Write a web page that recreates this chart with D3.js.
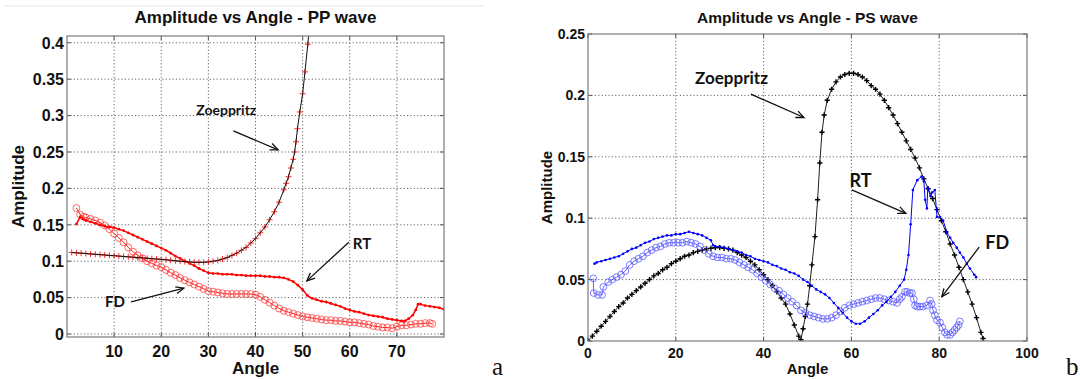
<!DOCTYPE html>
<html>
<head>
<meta charset="utf-8">
<script src="https://cdn.jsdelivr.net/npm/d3@7"></script>
<style>
  body { margin: 0; background: #fff; }
  svg { display: block; font-family: "Liberation Sans", Arial, sans-serif; }
</style>
</head>
<body>
<svg id="chart" width="1080" height="379"></svg>
<script>
// ---- Panel a: PP wave, [angle, amplitude]
const ppZoeppritz = [
  [1,.112],[2,.1115],[3,.111],[4,.1105],[5,.110],[6,.1095],[7,.109],[8,.1085],[9,.108],[10,.1075],
  [11,.107],[12,.1065],[13,.106],[14,.1055],[15,.105],[16,.1045],[17,.104],[18,.1035],[19,.103],[20,.1025],
  [21,.102],[22,.1013],[23,.1006],[24,.100],[25,.0995],[26,.099],[27,.0985],[28,.0985],[29,.0985],[30,.099],
  [31,.100],[32,.101],[33,.103],[34,.105],[35,.108],[36,.111],[37,.115],[38,.119],[39,.125],[40,.131],
  [41,.139],[42,.147],[43,.157],[44,.168],[45,.181],[46,.198],[46.5,.207],[47,.216],[47.5,.228],[48,.240],
  [48.3,.250],[48.6,.264],[48.9,.282],[49.4,.305],[50,.330],[50.5,.360],[51.1,.398],[51.5,.425]
];
const ppRT = [
  [2,.151],[2.8,.161],[3.5,.158],[4,.156],[5,.154],[6,.152],[7,.150],[8,.148],[9,.147],[10,.146],
  [11,.144],[12,.142],[13,.139],[14,.136],[15,.133],[16,.130],[17,.127],[18,.124],[19,.121],[20,.118],
  [21,.115],[22,.111],[23,.107],[24,.104],[25,.100],[26,.097],[27,.094],[28,.090],[29,.087],[30,.084],
  [31,.083],[32,.083],[33,.082],[34,.082],[35,.082],[36,.081],[37,.081],[38,.080],[39,.080],[40,.080],
  [41,.080],[42,.079],[43,.079],[44,.078],[45,.078],[46,.077],[47,.075],[48,.072],[49,.067],[50,.061],
  [51,.053],[52,.049],[53,.047],[54,.045],[55,.044],[56,.042],[57,.040],[58,.038],[59,.035],[60,.033],
  [61,.031],[62,.030],[63,.028],[64,.026],[65,.025],[66,.024],[67,.023],[68,.021],[69,.020],[70,.019],
  [71,.018],[71.7,.018],[72.5,.021],[73.4,.026],[74,.033],[74.5,.041],[75,.041],[76,.039],[77,.038],[78,.037],
  [79,.036],[80,.034]
];
const ppFD = [
  [2,.173],[2.8,.164],[3.5,.161],[4,.160],[5,.158],[6,.156],[7,.153],[8,.149],[9,.144],[10,.138],
  [11,.132],[12,.126],[13,.119],[14,.113],[15,.108],[16,.104],[17,.100],[18,.097],[19,.094],[20,.092],
  [21,.088],[22,.084],[23,.081],[24,.077],[25,.074],[26,.071],[27,.068],[28,.065],[29,.062],[30,.059],
  [31,.058],[32,.057],[33,.056],[34,.055],[35,.055],[36,.055],[37,.055],[38,.055],[39,.055],[40,.054],
  [41,.051],[42,.047],[43,.043],[44,.039],[45,.035],[46,.032],[47,.030],[48,.028],[49,.026],[50,.024],
  [51,.023],[52,.022],[53,.021],[54,.020],[55,.019],[56,.019],[57,.018],[58,.018],[59,.017],[60,.016],
  [61,.016],[62,.015],[63,.014],[64,.013],[65,.011],[66,.010],[67,.009],[68,.009],[69,.008],[70,.010],
  [71,.012],[72,.012],[73,.013],[74,.014],[75,.014],[76,.015],[77,.015],[77.5,.014]
];

// ---- Panel b: PS wave, [angle, amplitude]
const psZoeppritz = [
  [0,0],[1,.004],[2,.008],[3,.012],[4,.016],[5,.020],[6,.024],[7,.028],[8,.031],[9,.035],
  [10,.038],[11,.041],[12,.044],[13,.047],[14,.050],[15,.053],[16,.055],[17,.058],[18,.060],[19,.063],
  [20,.065],[21,.067],[22,.069],[23,.070],[24,.072],[25,.073],[26,.074],[27,.075],[28,.0755],[29,.076],
  [30,.076],[31,.0755],[32,.075],[33,.074],[34,.072],[35,.070],[36,.068],[37,.065],[38,.062],[39,.058],
  [40,.054],[41,.050],[42,.045],[43,.040],[44,.035],[45,.030],[46,.022],[47,.013],[48,.004],[48.5,.001],
  [49,.010],[49.5,.020],[50,.030],[50.5,.045],[51,.062],[51.7,.085],[52.3,.115],[52.8,.145],[53.3,.170],[53.8,.184],
  [54.5,.196],[55.5,.205],[56.5,.211],[57.5,.215],[58.5,.217],[59.5,.218],[60.5,.218],[61.5,.217],[62.5,.215],[63.5,.212],
  [64.5,.208],[65.5,.205],[66.5,.201],[67.5,.196],[68.5,.190],[69.5,.184],[70.5,.177],[71.5,.170],[72.5,.163],[73.5,.156],
  [74.5,.149],[75.5,.141],[76.5,.132],[77.5,.124],[78.5,.116],[79.5,.107],[80.5,.098],[81.5,.089],[82.5,.079],[83.5,.070],
  [84.5,.060],[85.5,.050],[86.5,.040],[87.5,.030],[88.5,.019],[89.5,.007],[90,.002]
];
const psRT = [
  [1.5,.063],[2,.064],[3,.065],[4,.066],[5,.067],[6,.068],[7,.069],[8,.071],[9,.073],[10,.075],
  [11,.076],[12,.078],[13,.080],[14,.081],[15,.083],[16,.084],[17,.085],[18,.086],[19,.086],[20,.087],
  [21,.087],[22,.088],[23,.089],[24,.088],[25,.087],[26,.086],[27,.084],[28,.082],[28.5,.078],[29,.077],
  [30,.077],[31,.076],[32,.075],[33,.074],[34,.073],[35,.072],[36,.070],[37,.069],[38,.067],[39,.066],
  [40,.065],[41,.064],[42,.062],[43,.061],[44,.059],[45,.058],[46,.056],[47,.055],[48,.053],[49,.050],
  [50,.048],[51,.045],[52,.042],[53,.040],[54,.038],[55,.035],[56,.031],[57,.027],[58,.023],[59,.019],
  [60,.016],[61,.014],[62,.014],[63,.016],[64,.019],[65,.022],[66,.025],[67,.029],[68,.032],[69,.036],
  [70,.040],[71,.045],[72,.050],[72.5,.058],[73,.070],[73.5,.095],[74,.123],[75,.131],[76,.134],[76.5,.130],
  [76.8,.115],[77.2,.108],[77.4,.125],[78,.118],[78.4,.121],[79,.123],[79.5,.101],[80.2,.101],[80.9,.098],[81.8,.088],
  [82.5,.084],[83.2,.080],[84,.076],[84.7,.072],[85.5,.068],[86.3,.063],[87,.059],[88,.054],[88.4,.052]
];
const psFD = [
  [1.2,.051],[1.3,.039],[2.3,.0375],[3.2,.0375],[3.5,.044],[4.6,.048],[5.5,.050],[6.5,.052],[7.5,.054],[8.5,.057],
  [9.5,.062],[10.5,.065],[11.5,.067],[12.5,.069],[13.5,.072],[14.5,.074],[15.5,.076],[16.5,.077],[17.5,.079],[18.5,.080],
  [19.5,.080],[20.5,.080],[21.5,.080],[22.5,.081],[23.5,.080],[24.5,.079],[25.5,.077],[26.5,.074],[27.5,.071],[28.5,.069],
  [29.5,.068],[30.5,.068],[31.5,.067],[32.5,.067],[33.5,.066],[34.5,.064],[35.5,.062],[36.5,.060],[37.5,.058],[38.5,.055],
  [39.5,.052],[40.5,.049],[41.5,.046],[42.5,.043],[43.5,.041],[44.5,.038],[45.5,.035],[46.5,.032],[47.5,.029],[48.5,.025],
  [49.5,.023],[50.5,.021],[51.5,.020],[52.5,.019],[53.5,.018],[54.5,.018],[55.5,.019],[56.5,.021],[57.5,.024],[58.5,.027],
  [59.5,.029],[60.5,.030],[61.5,.031],[62.5,.032],[63.5,.033],[64.5,.034],[65.5,.035],[66.5,.035],[67.5,.034],[68.5,.033],
  [69.5,.032],[70.4,.031],[71,.034],[71.5,.036],[72.2,.040],[72.7,.040],[73.3,.039],[73.8,.039],[74.2,.034],[74.5,.029],
  [75,.028],[75.6,.028],[76.3,.028],[77.2,.029],[77.9,.033],[78.3,.030],[78.6,.025],[79,.021],[79.5,.017],[80.2,.015],
  [80.7,.011],[81.3,.007],[81.8,.005],[82.5,.005],[83,.007],[83.5,.009],[84,.011],[84.4,.013],[84.7,.016]
];

// ---- Tick values
const ppXTicks = [10, 20, 30, 40, 50, 60, 70];
const ppYTicks = [0, 0.05, 0.1, 0.15, 0.2, 0.25, 0.3, 0.35, 0.4];
const psXTicks = [0, 20, 40, 60, 80, 100];
const psYTicks = [0, 0.05, 0.1, 0.15, 0.2, 0.25];

// ---- Annotations (data units): label position, arrow start, arrow tip
const ppNotes = [
  { text: "Zoeppritz", at: [33.8, 0.308], from: [35.3, 0.279], to: [44.8, 0.253] },
  { text: "RT", at: [62.6, 0.124], from: [59.8, 0.126], to: [50.9, 0.073] },
  { text: "FD", at: [10.2, 0.044], from: [13.6, 0.044], to: [24.8, 0.063] }
];
const psNotes = [
  { text: "Zoeppritz", at: [32.7, 0.214], from: [37.1, 0.201], to: [49.2, 0.182] },
  { text: "RT", at: [62.1, 0.131], from: [60.1, 0.123], to: [72.4, 0.104] },
  { text: "FD", at: [93.2, 0.080], from: [89.1, 0.0765], to: [80.6, 0.036] }
];

const svg = d3.select("#chart");

// faint page rule above panel a
svg.append("line").attr("x1", 5).attr("x2", 483).attr("y1", 6).attr("y2", 6)
  .attr("stroke", "#e6e6e6").attr("stroke-width", 1);

const defs = svg.append("defs");
defs.append("marker")
  .attr("id", "arrow")
  .attr("viewBox", "-10 -6 12 12")
  .attr("refX", 0).attr("refY", 0)
  .attr("markerWidth", 12).attr("markerHeight", 12)
  .attr("markerUnits", "userSpaceOnUse")
  .attr("orient", "auto")
  .append("path")
  .attr("d", "M-8,-3.5L0,0L-8,3.5")
  .attr("fill", "none").attr("stroke", "#111").attr("stroke-width", 1.3);

function drawPanel(p) {
  const x = d3.scaleLinear().domain(p.xDomain).range([p.left, p.right]);
  const y = d3.scaleLinear().domain(p.yDomain).range([p.bottom, p.top]);
  const g = svg.append("g");

  defs.append("clipPath").attr("id", p.id + "-clip")
    .append("rect").attr("x", p.left).attr("y", p.top)
    .attr("width", p.right - p.left).attr("height", p.bottom - p.top);

  // dotted grid
  g.selectAll(".gx").data(p.xTicks.filter(v => x(v) > p.left + 1 && x(v) < p.right - 1)).join("line")
    .attr("x1", d => x(d)).attr("x2", d => x(d)).attr("y1", p.top).attr("y2", p.bottom)
    .attr("stroke", "#666").attr("stroke-width", 1).attr("stroke-dasharray", "1.2,2.2");
  g.selectAll(".gy").data(p.yTicks.filter(v => y(v) > p.top + 1 && y(v) < p.bottom - 1)).join("line")
    .attr("y1", d => y(d)).attr("y2", d => y(d)).attr("x1", p.left).attr("x2", p.right)
    .attr("stroke", "#666").attr("stroke-width", 1).attr("stroke-dasharray", "1.2,2.2");

  // inward ticks on all four sides
  const tk = 4;
  g.selectAll(".tx").data(p.xTicks).join("path")
    .attr("d", d => `M${x(d)},${p.bottom}v${-tk}M${x(d)},${p.top}v${tk}`)
    .attr("stroke", "#555");
  g.selectAll(".ty").data(p.yTicks).join("path")
    .attr("d", d => `M${p.left},${y(d)}h${tk}M${p.right},${y(d)}h${-tk}`)
    .attr("stroke", "#555");

  // series
  const plot = g.append("g").attr("clip-path", `url(#${p.id}-clip)`);
  const line = d3.line().x(d => x(d[0])).y(d => y(d[1]));
  p.series.forEach(s => {
    const drawLine = () => plot.append("path").datum(s.data).attr("d", line)
      .attr("fill", "none").attr("stroke", s.lineColor).attr("stroke-width", s.lineWidth);
    if (!s.lineOnTop) drawLine();
    const m = plot.append("g").selectAll("g").data(s.data).join("g")
      .attr("transform", d => `translate(${x(d[0])},${y(d[1])})`);
    if (s.marker === "plus") {
      m.append("path").attr("d", `M${-s.size},0H${s.size}M0,${-s.size}V${s.size}`)
        .attr("stroke", s.markerColor).attr("stroke-width", s.markerWidth || 1).attr("fill", "none");
    } else if (s.marker === "circle") {
      m.append("circle").attr("r", s.size).attr("fill", "none")
        .attr("stroke", s.markerColor).attr("stroke-width", 0.9).attr("stroke-opacity", 0.85);
    } else if (s.marker === "dot") {
      m.append("circle").attr("r", s.size).attr("fill", s.markerColor);
    }
    if (s.lineOnTop) drawLine();
  });

  // frame
  g.append("rect").attr("x", p.left).attr("y", p.top)
    .attr("width", p.right - p.left).attr("height", p.bottom - p.top)
    .attr("fill", "none").attr("stroke", "#7a7a7a").attr("stroke-width", 1.2);

  // tick labels
  g.selectAll(".lx").data(p.xTicks).join("text")
    .attr("x", d => x(d)).attr("y", p.xLabelY)
    .attr("text-anchor", "middle").attr("font-weight", "bold").attr("font-size", p.tickSize)
    .attr("fill", "#111").text(d => d);
  g.selectAll(".ly").data(p.yTicks).join("text")
    .attr("x", p.left - 3).attr("y", d => y(d)).attr("dy", "0.36em")
    .attr("text-anchor", "end").attr("font-weight", "bold").attr("font-size", p.tickSize)
    .attr("fill", "#111").text(d => d);

  // titles
  g.append("text").attr("x", (p.left + p.right) / 2).attr("y", 23)
    .attr("text-anchor", "middle").attr("font-weight", "bold").attr("font-size", p.titleSize)
    .attr("fill", "#111").text(p.title);
  g.append("text").attr("x", (p.left + p.right) / 2).attr("y", 374)
    .attr("text-anchor", "middle").attr("font-weight", "bold").attr("font-size", p.axisSize)
    .attr("fill", "#111").text("Angle");
  g.append("text")
    .attr("transform", `translate(${p.yTitleX},${(p.top + p.bottom) / 2}) rotate(-90)`)
    .attr("text-anchor", "middle").attr("font-weight", "bold").attr("font-size", p.axisSize)
    .attr("fill", "#111").text("Amplitude");

  // annotations
  p.notes.forEach(n => {
    g.append("line")
      .attr("x1", x(n.from[0])).attr("y1", y(n.from[1]))
      .attr("x2", x(n.to[0])).attr("y2", y(n.to[1]))
      .attr("stroke", "#111").attr("stroke-width", 1.3)
      .attr("marker-end", "url(#arrow)");
    g.append("text").attr("x", x(n.at[0])).attr("y", y(n.at[1])).attr("dy", "0.36em")
      .attr("text-anchor", "middle").attr("font-family", "Lato, 'Open Sans', sans-serif")
      .attr("font-weight", "bold").attr("font-size", n.text === "Zoeppritz" ? p.noteSize : p.noteSize + 1)
      .attr("fill", "#111").text(n.text);
  });

  // panel letter
  svg.append("text").attr("x", p.letterX).attr("y", 375)
    .attr("font-family", "'Liberation Serif', 'Times New Roman', serif")
    .attr("font-size", 25).attr("fill", "#111").text(p.letter);
}

drawPanel({
  id: "pp", left: 67, right: 444, top: 36, bottom: 337,
  xDomain: [0, 80], yDomain: [-0.0041, 0.4093],
  xTicks: ppXTicks, yTicks: ppYTicks,
  title: "Amplitude vs Angle - PP wave", titleSize: 17, axisSize: 17, tickSize: 16,
  xLabelY: 357, yTitleX: 24, noteSize: 14, notes: ppNotes, letter: "a", letterX: 492,
  series: [
    { data: ppFD, lineColor: "#ff2020", lineWidth: 1, marker: "circle", markerColor: "#ff3a3a", size: 3.5 },
    { data: ppRT, lineColor: "#ff0000", lineWidth: 1.5, marker: "dot", markerColor: "#ff0000", size: 1.4 },
    { data: ppZoeppritz, lineColor: "#111", lineWidth: 1, marker: "plus", markerColor: "#ff2a2a", size: 3, lineOnTop: true }
  ]
});

drawPanel({
  id: "ps", left: 588, right: 1027, top: 34, bottom: 341,
  xDomain: [0, 100], yDomain: [0, 0.25],
  xTicks: psXTicks, yTicks: psYTicks,
  title: "Amplitude vs Angle - PS wave", titleSize: 15.5, axisSize: 15, tickSize: 14,
  xLabelY: 358, yTitleX: 552, noteSize: 17, notes: psNotes, letter: "b", letterX: 1066,
  series: [
    { data: psZoeppritz, lineColor: "#222", lineWidth: 1, marker: "plus", markerColor: "#000", size: 2.6, markerWidth: 1.4 },
    { data: psFD, lineColor: "#4040ff", lineWidth: 0.8, marker: "circle", markerColor: "#5555ff", size: 3.4 },
    { data: psRT, lineColor: "#0000ff", lineWidth: 1, marker: "dot", markerColor: "#0000ff", size: 1.3 }
  ]
});
</script>
</body>
</html>
